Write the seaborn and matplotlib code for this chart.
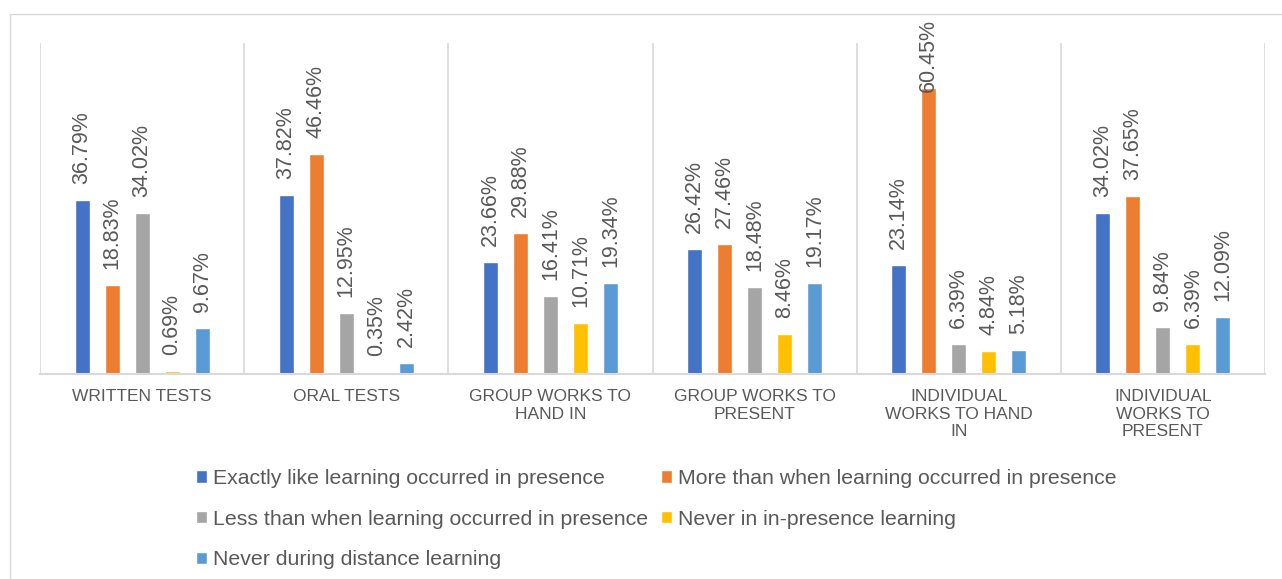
import matplotlib
matplotlib.use("Agg")
import matplotlib.pyplot as plt
import seaborn as sns
import pandas as pd
from matplotlib.patches import Rectangle

categories = [
    "WRITTEN TESTS",
    "ORAL TESTS",
    "GROUP WORKS TO\nHAND IN",
    "GROUP WORKS TO\nPRESENT",
    "INDIVIDUAL\nWORKS TO HAND\nIN",
    "INDIVIDUAL\nWORKS TO\nPRESENT",
]
series = [
    "Exactly like learning occurred in presence",
    "More than when learning occurred in presence",
    "Less than when learning occurred in presence",
    "Never in in-presence learning",
    "Never during distance learning",
]
exactly_like = [36.79, 37.82, 23.66, 26.42, 23.14, 34.02]
more_than = [18.83, 46.46, 29.88, 27.46, 60.45, 37.65]
less_than = [34.02, 12.95, 16.41, 18.48, 6.39, 9.84]
never_presence = [0.69, 0.35, 10.71, 8.46, 4.84, 6.39]
never_distance = [9.67, 2.42, 19.34, 19.17, 5.18, 12.09]
colors = ["#4472C4", "#ED7D31", "#A5A5A5", "#FFC000", "#5B9BD5"]

values = [exactly_like, more_than, less_than, never_presence, never_distance]
rows = []
for s, vals in zip(series, values):
    for c, v in zip(categories, vals):
        rows.append({"category": c, "series": s, "value": v})
df = pd.DataFrame(rows)

sns.set_theme(style="white")
plt.rcParams["font.family"] = ["Liberation Sans", "DejaVu Sans"]
text_color = "#595959"
grid_color = "#D9D9D9"

fig = plt.figure(figsize=(12.82, 5.79), dpi=100)
ax = fig.add_axes([40 / 1282, 1 - 374 / 579, 1225 / 1282, 331 / 579])

# outer chart frame
fig.patches.append(Rectangle((10 / 1282, -0.1), 1.2, 1.1 - 14 / 579,
                             transform=fig.transFigure, fill=False,
                             edgecolor=grid_color, linewidth=1.0, zorder=0))

sns.barplot(data=df, x="category", y="value", hue="series", order=categories,
            hue_order=series, palette=colors, width=0.735, gap=0.5,
            saturation=1, ax=ax, legend=True, errorbar=None)

ax.set_ylim(0, 70)
ax.set_xlim(-0.5, len(categories) - 0.5)
for x in [i - 0.5 for i in range(len(categories) + 1)]:
    ax.axvline(x, color=grid_color, linewidth=1.2, zorder=0)
for side in ["top", "right", "left"]:
    ax.spines[side].set_visible(False)
ax.spines["bottom"].set_color(grid_color)
ax.spines["bottom"].set_linewidth(1.5)
ax.set_yticks([])
ax.set_xlabel("")
ax.set_ylabel("")
ax.tick_params(axis="x", length=0, pad=11)
for lbl in ax.get_xticklabels():
    lbl.set_fontsize(12.5)
    lbl.set_color(text_color)
    lbl.set_linespacing(1.2)

# value labels above each bar
for container in ax.containers:
    for bar in container:
        h = bar.get_height()
        offset = 11.5 if h < 55 else -3
        ax.annotate(f"{h:.2f}%", (bar.get_x() + bar.get_width() / 2, h),
                    xytext=(0, offset), textcoords="offset points",
                    rotation=90, ha="center", va="bottom", fontsize=15.5,
                    color=text_color, annotation_clip=False)

handles, labels = ax.get_legend_handles_labels()
ax.get_legend().remove()
order = [0, 2, 4, 1, 3]
fig.legend([handles[i] for i in order], [labels[i] for i in order],
           loc="upper left", bbox_to_anchor=(196 / 1282, 1 - 469 / 579),
           ncol=2, frameon=False, fontsize=15.3, labelcolor=text_color,
           handlelength=0.5, handleheight=0.5, handletextpad=0.3,
           columnspacing=0.6, labelspacing=1.02, borderpad=0, borderaxespad=0)

fig.savefig("out.png", dpi=100)
